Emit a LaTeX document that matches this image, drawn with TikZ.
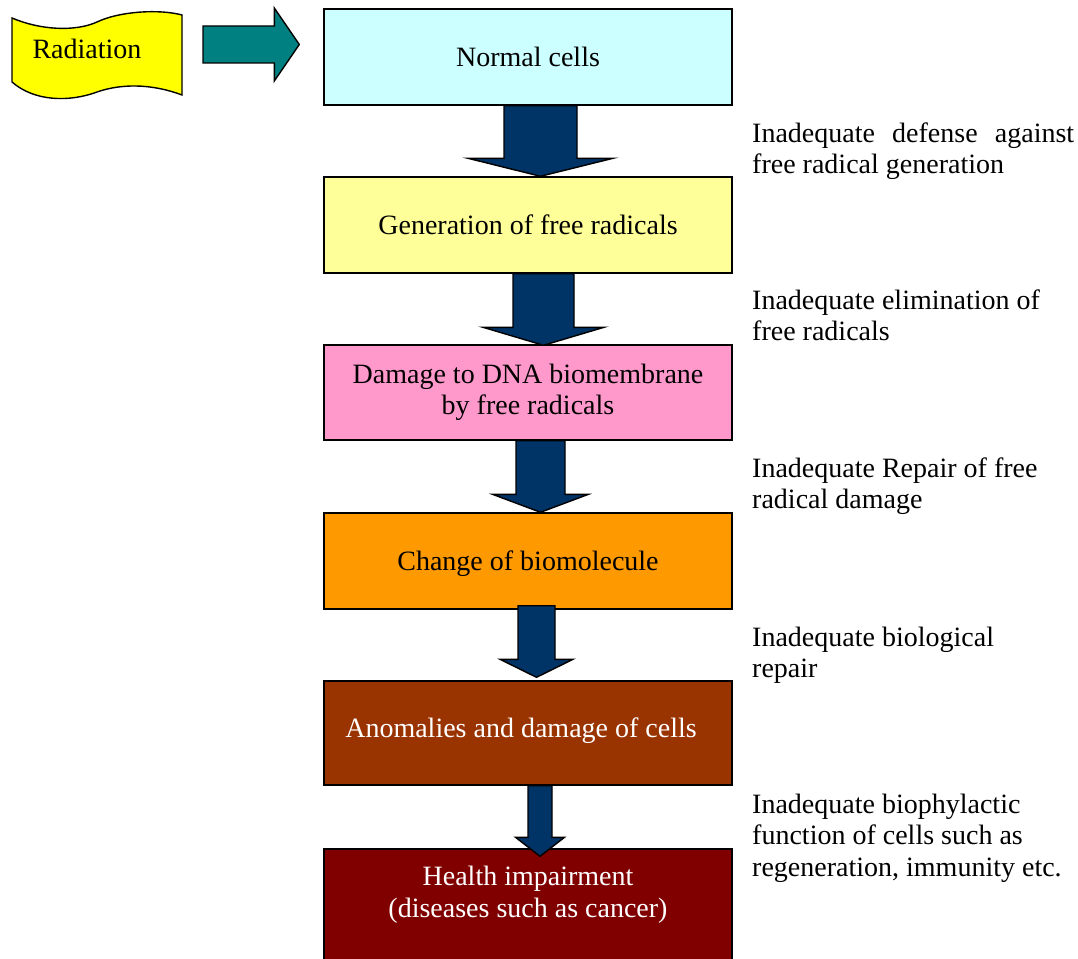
\documentclass[tikz,border=0pt]{standalone}
\usepackage{fontspec}
\setmainfont{Liberation Serif}
\usetikzlibrary{calc}

\definecolor{cellblue}{HTML}{CCFFFF}
\definecolor{paleyellow}{HTML}{FFFF99}
\definecolor{pink}{HTML}{FF99CC}
\definecolor{orange}{HTML}{FF9900}
\definecolor{rust}{HTML}{993300}
\definecolor{maroon}{HTML}{800000}
\definecolor{navy}{HTML}{003366}
\definecolor{teal}{HTML}{008080}
\definecolor{radyellow}{HTML}{FFFF00}

\tikzset{
  stagebox/.style={draw=black, line width=1.4pt, minimum width=408, inner sep=0pt},
  lbl/.style={inner sep=0pt, anchor=base, font=\fontsize{28}{31.5}\selectfont},
  note/.style={inner sep=0pt, anchor=base west, font=\fontsize{28}{31.5}\selectfont},
  blockarrow/.style={draw=black, line width=1.4pt, fill=navy, line join=miter},
  sidearrow/.style={draw=black, line width=1.4pt, fill=teal, line join=miter},
}

% downward block arrow between two stage boxes:
% #1 from, #2 to, #3 axis offset, #4 shaft half width, #5 head half width,
% #6 head length, #7 start shift, #8 tip shift
\newcommand\flowarrow[8]{%
  \draw[blockarrow] let \p1=($(#1.south)+(#3,#7)$), \p2=($(#2.north)+(#3,#8)$) in
    (\x1-#4,\y1) -- (\x1+#4,\y1) -- (\x1+#4,\y2+#6) -- (\x1+#5,\y2+#6)
    -- (\x2,\y2) -- (\x1-#5,\y2+#6) -- (\x1-#4,\y2+#6) -- cycle;}

\begin{document}
\begin{tikzpicture}[x=1pt,y=1pt]
\useasboundingbox (0,0) rectangle (1078,-958);
\clip (0,0) rectangle (1078,-958);

% radiation banner
\draw[line width=1.4pt, fill=radyellow]
  (12,-18) .. controls (40,-30) and (75,-32) .. (97,-22)
  .. controls (120,-11) and (160,-9) .. (182,-15)
  -- (182,-95)
  .. controls (150,-83) and (120,-84) .. (97,-92)
  .. controls (70,-102) and (35,-102) .. (12,-82) -- cycle;
\node[lbl] (rad) at (87,-59) {Radiation};

% stage boxes
\node[stagebox, fill=cellblue,   minimum height=96]  (b1) at (528,-57) {};
\node[stagebox, fill=paleyellow, minimum height=96]  (b2) at (528,-225) {};
\node[stagebox, fill=pink,       minimum height=95]  (b3) at (528,-392.5) {};
\node[stagebox, fill=orange,     minimum height=96]  (b4) at (528,-561) {};
\node[stagebox, fill=rust,       minimum height=104] (b5) at (528,-733) {};
\node[stagebox, fill=maroon,     minimum height=130] (b6) at (528,-914) {};

% stage labels
\node[lbl] (t1) at (528,-66.5) {Normal cells};
\node[lbl] (t2) at (528,-234) {Generation of free radicals};
\node[lbl] (t3) at (528,-383) {\begin{tabular}[t]{@{}c@{}}Damage to DNA biomembrane\\by free radicals\end{tabular}};
\node[lbl] (t4) at (528,-570) {Change of biomolecule};
\node[lbl, text=white] (t5) at (521,-737.5) {Anomalies and damage of cells};
\node[lbl, text=white] (t6) at (528,-885.5) {\begin{tabular}[t]{@{}c@{}}Health impairment\\(diseases such as cancer)\end{tabular}};

% radiation arrow into the first stage
\coordinate (radtail) at (203,-44.5);
\draw[sidearrow] let \p1=(radtail), \p2=($(b1.west)+(-24,12.5)$) in
  (\x1,\y1+18.5) -- (\x2-25,\y1+18.5) -- (\x2-25,\y2+36.5) -- (\x2,\y2)
  -- (\x2-25,\y2-36.5) -- (\x2-25,\y1-18.5) -- (\x1,\y1-18.5) -- cycle;

% arrows between stages
\flowarrow{b1}{b2}{12.5}{36.5}{72.5}{18}{0}{0}
\flowarrow{b2}{b3}{15.5}{30.5}{60.5}{18}{0}{-1}
\flowarrow{b3}{b4}{12.5}{24.5}{48}{18}{0}{0}
\flowarrow{b4}{b5}{8.5}{18.5}{36.5}{18}{4}{3}
\flowarrow{b5}{b6}{12}{12}{24.5}{19}{0}{-8}

% side notes
\node[note] (n1) at (752,-142) {\begin{tabular}[t]{@{}l@{}}\hbox to 322pt{Inadequate\hfill defense\hfill against}\\free radical generation\end{tabular}};
\node[note] (n2) at (752,-309) {\begin{tabular}[t]{@{}l@{}}Inadequate elimination of\\free radicals\end{tabular}};
\node[note] (n3) at (752,-477) {\begin{tabular}[t]{@{}l@{}}Inadequate Repair of free\\radical damage\end{tabular}};
\node[note] (n4) at (752,-646) {\begin{tabular}[t]{@{}l@{}}Inadequate biological\\repair\end{tabular}};
\node[note] (n5) at (752,-813) {\begin{tabular}[t]{@{}l@{}}Inadequate biophylactic\\function of cells such as\\regeneration, immunity etc.\end{tabular}};
\end{tikzpicture}
\end{document}
